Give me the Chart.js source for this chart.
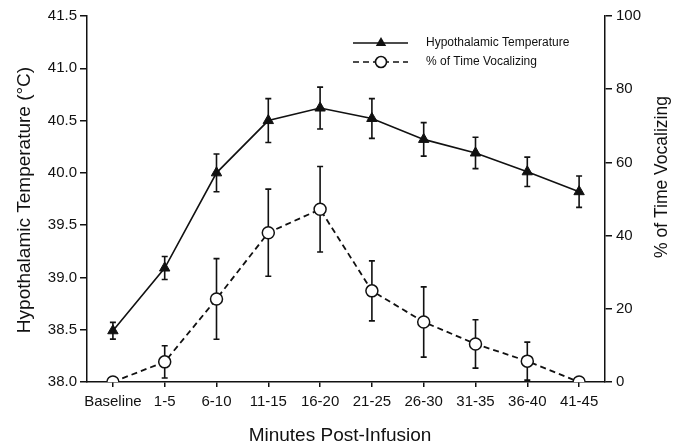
<!DOCTYPE html>
<html>
<head>
<meta charset="utf-8">
<script src="https://cdn.jsdelivr.net/npm/chart.js@4/dist/chart.umd.min.js"></script>
<style>
  html, body { margin: 0; padding: 0; background: #fff; }
  #wrap { width: 675px; height: 446px; }
</style>
</head>
<body>
<div id="wrap"><canvas id="c" width="675" height="446"></canvas></div>
<script>
const categories = ["Baseline", "1-5", "6-10", "11-15", "16-20", "21-25", "26-30", "31-35", "36-40", "41-45"];
const temperature = [38.49, 39.09, 40.00, 40.50, 40.62, 40.52, 40.32, 40.19, 40.01, 39.82];
const temperatureErr = [0.08, 0.11, 0.18, 0.21, 0.20, 0.19, 0.16, 0.15, 0.14, 0.15];
const vocalizing = [0, 5.5, 22.7, 40.8, 47.2, 24.9, 16.4, 10.4, 5.7, 0];
const vocalizingErr = [0, 4.4, 11.0, 11.9, 11.7, 8.2, 9.6, 6.6, 5.2, 0];
const seriesNames = ["Hypothalamic Temperature", "% of Time Vocalizing"];
const xTitle = "Minutes Post-Infusion";
const yLeftTitle = "Hypothalamic Temperature (°C)";
const yRightTitle = "% of Time Vocalizing";

const FONT = "'Liberation Sans', Arial, Helvetica, sans-serif";
const INK = "#111";

const errorBars = {
  id: 'errorBars',
  beforeDatasetsDraw(chart) {
    const ctx = chart.ctx;
    const xs = chart.scales.x;
    chart.data.datasets.forEach((ds, i) => {
      if (!ds.errors) return;
      const ys = chart.scales[ds.yAxisID];
      ctx.save();
      ctx.strokeStyle = INK;
      ctx.lineWidth = 1.6;
      ctx.setLineDash([]);
      ds.data.forEach((v, j) => {
        const e = ds.errors[j];
        if (!e) return;
        const px = xs.getPixelForValue(j);
        const t = ys.getPixelForValue(v + e);
        const b = ys.getPixelForValue(v - e);
        ctx.beginPath();
        ctx.moveTo(px, t); ctx.lineTo(px, b);
        ctx.moveTo(px - 3, t); ctx.lineTo(px + 3, t);
        ctx.moveTo(px - 3, b); ctx.lineTo(px + 3, b);
        ctx.stroke();
      });
      ctx.restore();
    });
  }
};

const extras = {
  id: 'extras',
  afterDraw(chart) {
    const ctx = chart.ctx;
    ctx.save();
    ctx.fillStyle = INK;
    ctx.textAlign = 'center';
    ctx.textBaseline = 'middle';
    // x title
    ctx.font = "19px " + FONT;
    ctx.fillText(xTitle, 340, 436);
    // left title
    ctx.save();
    ctx.translate(25, 200);
    ctx.rotate(-Math.PI / 2);
    ctx.font = "19px " + FONT;
    ctx.fillText(yLeftTitle, 0, 0);
    ctx.restore();
    // right title
    ctx.save();
    ctx.translate(662, 177);
    ctx.rotate(-Math.PI / 2);
    ctx.font = "17.5px " + FONT;
    ctx.fillText(yRightTitle, 0, 0);
    ctx.restore();

    // legend
    const rows = [43, 62];
    const x0 = 353, x1 = 408, xm = 381;
    chart.data.datasets.forEach((ds, i) => {
      const y = rows[i];
      ctx.save();
      ctx.strokeStyle = INK;
      ctx.lineWidth = 1.6;
      ctx.setLineDash(ds.borderDash || []);
      ctx.beginPath();
      ctx.moveTo(x0, y); ctx.lineTo(x1, y);
      ctx.stroke();
      ctx.setLineDash([]);
      if (ds.pointStyle === 'triangle') {
        const r = 6;
        ctx.fillStyle = INK;
        ctx.beginPath();
        ctx.moveTo(xm, y - r);
        ctx.lineTo(xm + r * 0.866, y + r * 0.5);
        ctx.lineTo(xm - r * 0.866, y + r * 0.5);
        ctx.closePath();
        ctx.fill();
      } else {
        ctx.fillStyle = '#fff';
        ctx.beginPath();
        ctx.arc(xm, y, 5.5, 0, Math.PI * 2);
        ctx.fill();
        ctx.stroke();
      }
      ctx.fillStyle = INK;
      ctx.textAlign = 'left';
      ctx.textBaseline = 'middle';
      ctx.font = "12px " + FONT;
      ctx.fillText(ds.label, 426, y);
      ctx.restore();
    });
    ctx.restore();
  }
};

new Chart(document.getElementById('c'), {
  type: 'line',
  data: {
    labels: categories,
    datasets: [
      {
        label: seriesNames[0],
        data: temperature,
        errors: temperatureErr,
        yAxisID: 'y',
        borderColor: INK,
        borderWidth: 1.6,
        pointStyle: 'triangle',
        pointRadius: 6,
        pointBackgroundColor: INK,
        pointBorderColor: INK,
        pointBorderWidth: 1,
        tension: 0,
        fill: false
      },
      {
        label: seriesNames[1],
        data: vocalizing,
        errors: vocalizingErr,
        yAxisID: 'y1',
        borderColor: INK,
        borderWidth: 1.8,
        borderDash: [6, 4],
        pointStyle: 'circle',
        pointRadius: 6,
        pointBackgroundColor: '#fff',
        pointBorderColor: INK,
        pointBorderWidth: 1.5,
        tension: 0,
        fill: false,
        clip: { left: 20, top: 20, right: 20, bottom: 0 }
      }
    ]
  },
  options: {
    responsive: false,
    animation: false,
    devicePixelRatio: 1,
    layout: { padding: { top: 16, left: 0, right: 0, bottom: 0 } },
    plugins: {
      legend: { display: false },
      tooltip: { enabled: false },
      title: { display: false }
    },
    scales: {
      x: {
        type: 'category',
        offset: true,
        grid: { drawOnChartArea: false, drawTicks: true, tickLength: 5, color: INK, lineWidth: 1.5 },
        border: { display: true, color: INK, width: 1.5 },
        ticks: { color: INK, font: { family: FONT, size: 15 }, padding: 6, maxRotation: 0, autoSkip: false },
        afterFit: s => { s.height = 64; }
      },
      y: {
        position: 'left',
        min: 38, max: 41.5,
        grid: { drawOnChartArea: false, drawTicks: true, tickLength: 7, color: INK, lineWidth: 1.5 },
        border: { display: true, color: INK, width: 1.5 },
        ticks: { stepSize: 0.5, color: INK, font: { family: FONT, size: 15 }, padding: 3, callback: v => Number(v).toFixed(1) },
        afterFit: s => { s.width = 87; }
      },
      y1: {
        position: 'right',
        min: 0, max: 100,
        grid: { drawOnChartArea: false, drawTicks: true, tickLength: 7, color: INK, lineWidth: 1.5 },
        border: { display: true, color: INK, width: 1.5 },
        ticks: { stepSize: 20, color: INK, font: { family: FONT, size: 15 }, padding: 4 },
        afterFit: s => { s.width = 70; }
      }
    }
  },
  plugins: [errorBars, extras]
});
</script>
</body>
</html>
